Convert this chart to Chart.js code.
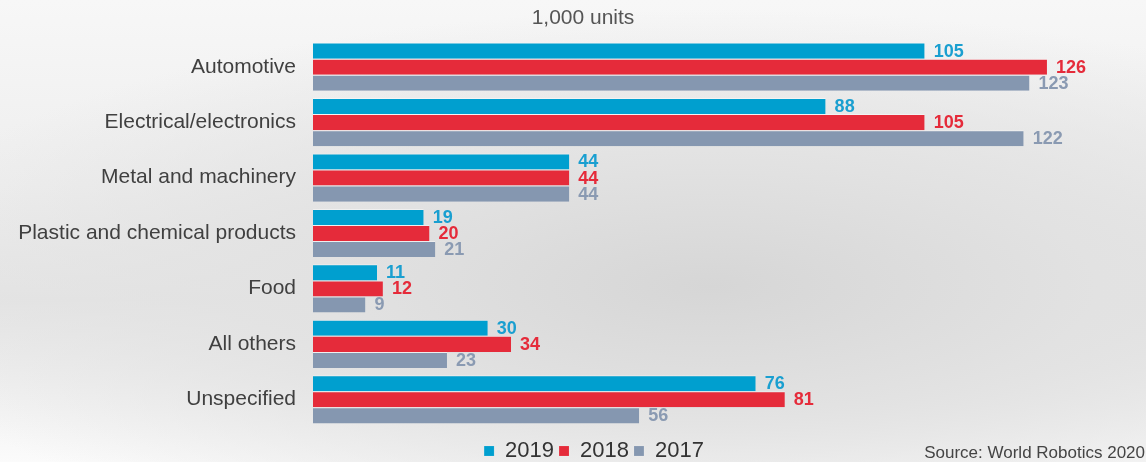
<!DOCTYPE html>
<html>
<head>
<meta charset="utf-8">
<script src="https://cdn.jsdelivr.net/npm/chart.js@4/dist/chart.umd.min.js"></script>
<style>
  html, body { margin: 0; padding: 0; }
  body {
    width: 1146px; height: 462px; overflow: hidden;
    background: radial-gradient(ellipse 75% 60% at 62% 62%, #d6d6d6 0%, #e2e2e2 45%, rgba(245,245,245,0) 100%),
                linear-gradient(to bottom, #f7f7f7 0%, #eeeeee 40%, #e4e4e4 65%, #fbfbfb 100%);
  }
</style>
</head>
<body>
<canvas id="barChart" width="1146" height="462"></canvas>
<script>
var categories = ['Automotive', 'Electrical/electronics', 'Metal and machinery', 'Plastic and chemical products', 'Food', 'All others', 'Unspecified'];
var years = ['2019', '2018', '2017'];
var units2019 = [105, 88, 44, 19, 11, 30, 76];
var units2018 = [126, 105, 44, 20, 12, 34, 81];
var units2017 = [123, 122, 44, 21, 9, 23, 56];
var barColors = ['#009fcf', '#e52b3a', '#8597b0'];
var labelColors = ['#1a9fd0', '#e52b3a', '#8a9ab2'];

var FONT = "'Liberation Sans', Arial, sans-serif";

// value labels at the end of each bar, plus title and source line
var extras = {
    id: 'extras',
    afterDatasetsDraw: function(chart) {
        var c = chart.ctx;
        c.save();
        c.textBaseline = 'middle';
        c.textAlign = 'left';
        chart.data.datasets.forEach(function(ds, i) {
            var meta = chart.getDatasetMeta(i);
            c.fillStyle = labelColors[i];
            c.font = 'bold 18px ' + FONT;
            meta.data.forEach(function(bar, j) {
                c.fillText(ds.data[j], bar.x + 9, bar.y + 1);
            });
        });
        c.fillStyle = '#555555';
        c.font = '21px ' + FONT;
        c.textAlign = 'center';
        c.fillText('1,000 units', 583, 18);
        c.font = '17px ' + FONT;
        c.textAlign = 'right';
        c.fillStyle = '#444444';
        c.fillText('Source: World Robotics 2020', 1145, 453);
        c.restore();
    }
};

var ctx = document.getElementById('barChart').getContext('2d');
var barChart = new Chart(ctx, {
    type: 'bar',
    data: {
        labels: categories,
        datasets: [{
            label: years[0],
            data: units2019,
            backgroundColor: barColors[0],
            borderColor: 'rgba(255,255,255,0.45)',
            borderWidth: { top: 1 }
        }, {
            label: years[1],
            data: units2018,
            backgroundColor: barColors[1],
            borderColor: 'rgba(255,255,255,0.45)',
            borderWidth: { top: 1 }
        }, {
            label: years[2],
            data: units2017,
            backgroundColor: barColors[2],
            borderColor: 'rgba(255,255,255,0.45)',
            borderWidth: { top: 1 }
        }]
    },
    options: {
        indexAxis: 'y',
        responsive: false,
        animation: false,
        layout: {
            // right side runs past the canvas so the legend sits where it should
            padding: { left: 18, right: -24, top: 39, bottom: -10 }
        },
        datasets: {
            bar: {
                categoryPercentage: 0.87,
                barPercentage: 1.0
            }
        },
        scales: {
            x: {
                display: false,
                min: 0,
                max: 143
            },
            y: {
                grid: { display: false, drawTicks: false },
                border: { display: false },
                afterFit: function(scale) { scale.width = 295; },
                ticks: {
                    padding: 17,
                    color: '#404040',
                    font: { family: FONT, size: 21 }
                }
            }
        },
        plugins: {
            legend: {
                position: 'bottom',
                // empty title just pushes the items down a bit
                title: { display: true, text: '', padding: 0, font: { size: 8, lineHeight: 1 } },
                labels: {
                    boxWidth: 10,
                    boxHeight: 10,
                    padding: 5,
                    color: '#333333',
                    font: { family: FONT, size: 22 }
                }
            },
            tooltip: { enabled: false }
        }
    },
    plugins: [extras]
});
</script>
</body>
</html>
